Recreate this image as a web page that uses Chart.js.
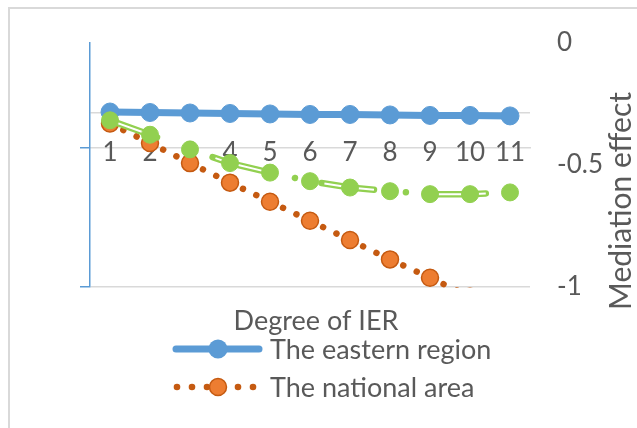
<!DOCTYPE html>
<html lang="en">
<head>
<meta charset="UTF-8">
<title>Mediation effect</title>
<script src="https://cdn.jsdelivr.net/npm/chart.js"></script>
<style>
  html, body { margin: 0; padding: 0; background: #fff; overflow: hidden; }
  #wrap { width: 637px; height: 428px; }
</style>
</head>
<body>
<div id="wrap"><canvas id="chart" width="637" height="428"></canvas></div>
<script>
// values
const categories = ['1', '2', '3', '4', '5', '6', '7', '8', '9', '10', '11'];
const eastern  = [-0.284, -0.286, -0.288, -0.29, -0.292, -0.294, -0.294, -0.296, -0.298, -0.298, -0.30];
const national = [-0.331, -0.411, -0.493, -0.573, -0.651, -0.729, -0.808, -0.887, -0.962, -1.04, -1.12];
const third    = [-0.318, -0.377, -0.437, -0.493, -0.532, -0.567, -0.593, -0.608, -0.62, -0.62, -0.613];
const rightTicks = [0, -0.5, -1];
const leftTicks = [-0.4, 0, 0.1];

const BLUE = '#5b9bd5', ORANGE = '#ed7d31', ORANGE_DARK = '#c55a11', GREEN = '#92d050';
const GREY = '#d9d9d9', TEXT = '#595959';
const FONT = 'Lato, "Open Sans", sans-serif';

// frame, axis titles and the legend
const extras = {
  id: 'extras',
  afterDraw(chart) {
    const ctx = chart.ctx;
    ctx.save();
    ctx.strokeStyle = GREY;
    ctx.lineWidth = 2;
    ctx.beginPath();
    ctx.moveTo(9, 428); ctx.lineTo(9, 8); ctx.lineTo(637, 8);
    ctx.stroke();

    ctx.fillStyle = TEXT;
    ctx.font = '27px ' + FONT;
    ctx.textAlign = 'center';
    ctx.textBaseline = 'middle';
    ctx.fillText('Degree of IER', 316, 321);

    ctx.save();
    ctx.font = '30px ' + FONT;
    ctx.translate(621, 201);
    ctx.rotate(-Math.PI / 2);
    ctx.fillText('Mediation effect', 0, 0);
    ctx.restore();

    // legend row 1
    ctx.strokeStyle = BLUE;
    ctx.lineWidth = 7;
    ctx.lineCap = 'round';
    ctx.beginPath();
    ctx.moveTo(176, 349); ctx.lineTo(259, 349);
    ctx.stroke();
    ctx.fillStyle = BLUE;
    ctx.beginPath(); ctx.arc(218, 349, 9.5, 0, Math.PI * 2); ctx.fill();

    // legend row 2
    ctx.fillStyle = ORANGE_DARK;
    [177, 192, 207, 238, 253].forEach(x => {
      ctx.beginPath(); ctx.arc(x, 387, 3.3, 0, Math.PI * 2); ctx.fill();
    });
    ctx.fillStyle = ORANGE;
    ctx.strokeStyle = ORANGE_DARK;
    ctx.lineWidth = 1.5;
    ctx.beginPath(); ctx.arc(218, 387, 8.5, 0, Math.PI * 2); ctx.fill(); ctx.stroke();

    ctx.fillStyle = TEXT;
    ctx.font = '27px ' + FONT;
    ctx.textAlign = 'left';
    ctx.fillText(chart.data.datasets[4].label, 270, 350);
    ctx.fillText(chart.data.datasets[3].label, 270, 388);
    ctx.restore();
  }
};

const ctx = document.getElementById('chart').getContext('2d');
new Chart(ctx, {
  type: 'line',
  data: {
    labels: categories,
    datasets: [
      { // markers of the third series, on top
        label: 'third', data: third, yAxisID: 'y', showLine: false,
        pointRadius: 8.5, pointBackgroundColor: GREEN, pointBorderColor: GREEN, pointBorderWidth: 1
      },
      { // white core of the double line
        label: 'third-core', data: third, yAxisID: 'y', pointRadius: 0,
        borderColor: '#ffffff', borderWidth: 2, borderDash: [50, 62], borderCapStyle: 'butt'
      },
      {
        label: 'third-line', data: third, yAxisID: 'y', pointRadius: 0,
        borderColor: GREEN, borderWidth: 6.5, borderDash: [53, 32, 0.01, 27], borderDashOffset: 3,
        borderCapStyle: 'round'
      },
      {
        label: 'The national area', data: national, yAxisID: 'y',
        borderColor: ORANGE_DARK, borderWidth: 6.5, borderDash: [0.01, 14.8], borderCapStyle: 'round',
        pointRadius: 8.5, pointBackgroundColor: ORANGE, pointBorderColor: ORANGE_DARK, pointBorderWidth: 1.5,
        clip: { left: 10, right: 10, top: 10, bottom: 1 }
      },
      {
        label: 'The eastern region', data: eastern, yAxisID: 'y',
        borderColor: BLUE, borderWidth: 7,
        pointRadius: 9, pointBackgroundColor: BLUE, pointBorderColor: BLUE, pointBorderWidth: 1
      }
    ]
  },
  options: {
    responsive: false,
    animation: false,
    events: [],
    layout: { padding: { left: 0, right: 0, top: 42, bottom: 141 } },
    plugins: { legend: { display: false }, tooltip: { enabled: false } },
    scales: {
      x: {
        type: 'category',
        offset: true,
        position: { yL: 0 },
        grid: { display: false, drawTicks: false },
        border: { display: true, color: GREY, width: 1.5 },
        ticks: { color: TEXT, font: { family: FONT, size: 26 }, padding: -10, maxRotation: 0, autoSkip: false }
      },
      yL: {
        position: 'left',
        min: -0.4, max: 0.3,
        afterBuildTicks: s => { s.ticks = leftTicks.map(v => ({ value: v })); },
        afterFit: s => { s.width = 90; },
        ticks: { display: false },
        grid: {
          color: c => (c.tick && c.tick.value === 0) ? 'rgba(0,0,0,0)' : GREY,
          tickColor: c => (c.tick && c.tick.value === 0.1) ? 'rgba(0,0,0,0)' : BLUE,
          lineWidth: 1.5, tickLength: 10, drawTicks: true
        },
        border: { display: true, color: BLUE, width: 1.5 }
      },
      y: {
        position: 'right',
        min: -1, max: 0,
        afterBuildTicks: s => { s.ticks = rightTicks.map(v => ({ value: v })); },
        afterFit: s => { s.width = 107; },
        grid: { display: false, drawTicks: false },
        border: { display: false },
        ticks: { color: TEXT, font: { family: FONT, size: 26 }, padding: 27, callback: v => String(v) }
      }
    }
  },
  plugins: [extras]
});
</script>
</body>
</html>
